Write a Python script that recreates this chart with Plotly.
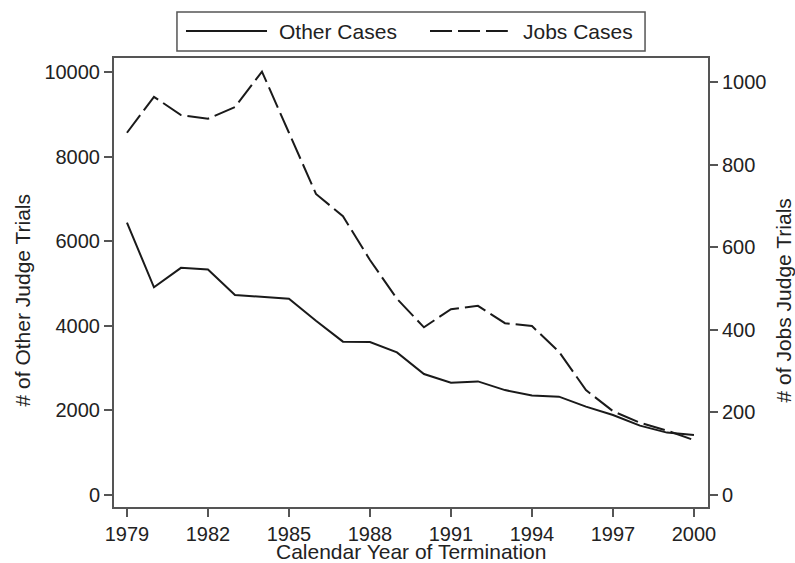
import plotly.graph_objects as go

years = list(range(1979, 2001))
other_cases = [6440, 4910, 5370, 5330, 4730, 4690, 4640, 4120, 3625, 3615,
               3370, 2860, 2655, 2685, 2480, 2350, 2325, 2090, 1890, 1640,
               1475, 1420]
jobs_cases = [877, 964, 920, 911, 939, 1025, 877, 729, 675, 569,
              475, 406, 450, 458, 416, 409, 347, 254, 203, 175,
              156, 133]
x_ticks = [1979, 1982, 1985, 1988, 1991, 1994, 1997, 2000]
left_ticks = [0, 2000, 4000, 6000, 8000, 10000]
right_ticks = [0, 200, 400, 600, 800, 1000]

FONT = "Liberation Sans, Arial, Helvetica, sans-serif"
INK = "#1a1a1a"
AX = "#555555"
TXT = "#222222"

fig = go.Figure()
fig.add_trace(go.Scatter(x=years, y=other_cases, mode="lines", name="Other Cases",
                         line=dict(color=INK, width=2), yaxis="y"))
fig.add_trace(go.Scatter(x=years, y=jobs_cases, mode="lines", name="Jobs Cases",
                         line=dict(color=INK, width=2, dash="22px,6px"), yaxis="y2"))

axis_common = dict(ticks="outside", ticklen=8, tickwidth=2, tickcolor=AX,
                   showline=True, linecolor=AX, linewidth=2, showgrid=False,
                   zeroline=False, tickformat="d", automargin=False,
                   tickfont=dict(family=FONT, size=20, color=TXT))

fig.update_layout(
    width=795, height=563,
    margin=dict(l=114, r=87, t=58, b=56, autoexpand=False),
    paper_bgcolor="white", plot_bgcolor="white",
    showlegend=False,
    font=dict(family=FONT, size=20, color=TXT),
    xaxis=dict(range=[1978.52, 2000.52], tickvals=x_ticks, mirror=True, **axis_common),
    yaxis=dict(range=[-284, 10331], tickvals=left_ticks, **axis_common),
    yaxis2=dict(range=[-29, 1058], tickvals=right_ticks, overlaying="y", side="right",
                **axis_common),
)

# Axis titles
fig.add_annotation(xref="paper", yref="paper", x=0.5, y=-0.1, text="Calendar Year of Termination",
                   showarrow=False, xanchor="center", yanchor="middle",
                   font=dict(family=FONT, size=21, color=TXT))
fig.add_annotation(xref="paper", yref="paper", x=-0.1549, y=0.46, text="# of Other Judge Trials",
                   showarrow=False, xanchor="center", yanchor="middle", textangle=-90,
                   font=dict(family=FONT, size=21, color=TXT))
fig.add_annotation(xref="paper", yref="paper", x=1.1263, y=0.46, text="# of Jobs Judge Trials",
                   showarrow=False, xanchor="center", yanchor="middle", textangle=-90,
                   font=dict(family=FONT, size=21, color=TXT))

# Legend drawn as a box above the plot
fig.add_shape(type="rect", xref="paper", yref="paper", x0=0.106, x1=0.894, y0=1.0156, y1=1.1025,
              line=dict(color=AX, width=1.5), fillcolor="white")
fig.add_shape(type="line", xref="paper", yref="paper", x0=0.1212, x1=0.2576, y0=1.06, y1=1.06,
              line=dict(color=INK, width=2))
fig.add_shape(type="line", xref="paper", yref="paper", x0=0.532, x1=0.663, y0=1.06, y1=1.06,
              line=dict(color=INK, width=2, dash="22px,6px"))
fig.add_annotation(xref="paper", yref="paper", x=0.2744, y=1.06, text="Other Cases",
                   showarrow=False, xanchor="left", yanchor="middle",
                   font=dict(family=FONT, size=21, color=TXT))
fig.add_annotation(xref="paper", yref="paper", x=0.685, y=1.06, text="Jobs Cases",
                   showarrow=False, xanchor="left", yanchor="middle",
                   font=dict(family=FONT, size=21, color=TXT))

fig.write_html("out.html", config={"displayModeBar": False},
               post_script="document.body.style.margin='0';document.body.style.overflow='hidden';")
